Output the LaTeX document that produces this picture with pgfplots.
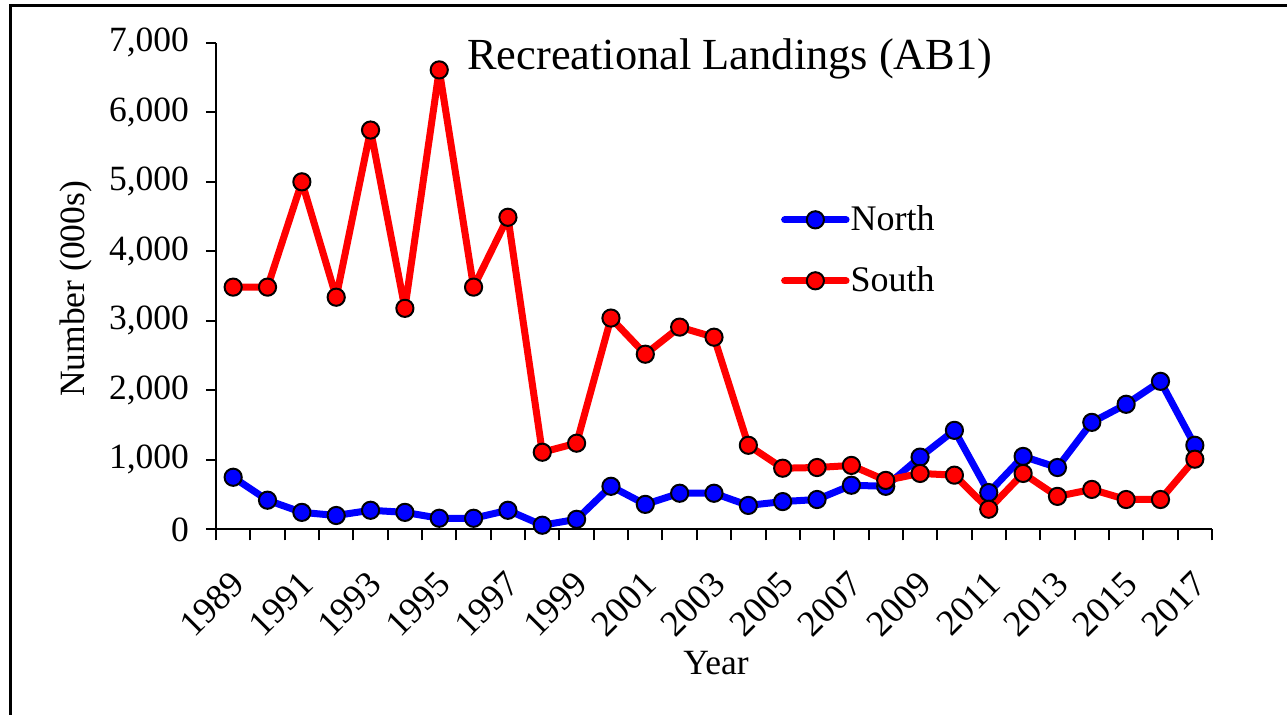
\documentclass[border=0pt]{standalone}
\usepackage{pgfplots}
\pgfplotsset{compat=1.18}
\usepackage{fontspec}
\setmainfont{Liberation Serif}
\begin{document}
\begin{tikzpicture}
\useasboundingbox (0,0) rectangle (643.5pt,357.5pt);
\draw[line width=1.5pt] (5pt,0) -- (5pt,354.5pt) -- (643.5pt,354.5pt);
\begin{axis}[
  at={(108pt,92.8pt)}, anchor=south west,
  scale only axis, width=498pt, height=243.3pt,
  xmin=-0.5, xmax=28.5, ymin=0, ymax=7000,
  axis lines*=left,
  axis line style={line width=1pt},
  tick align=outside,
  major tick length=5pt, minor tick length=5.5pt,
  every tick/.style={black, line width=1pt},
  xtick={0,2,...,28},
  xticklabels={1989,1991,1993,1995,1997,1999,2001,2003,2005,2007,2009,2011,2013,2015,2017},
  major x tick style={draw=none},
  minor xtick={-0.5,0.5,...,28.5},
  ytick={0,1000,...,7000},
  scaled ticks=false,
  /pgf/number format/.cd, 1000 sep={,}, assume math mode=true, /pgfplots/.cd,
  yticklabel style={font=\fontsize{17.75pt}{20pt}\selectfont, xshift=-5pt},
  xticklabel style={font=\fontsize{18.25pt}{21pt}\selectfont, xshift=-2pt, yshift=-10pt, rotate=45, anchor=north east},
  xlabel={Year}, ylabel={Number (000s)},
  every axis x label/.style={at={(axis description cs:0.502,-0.274)}, anchor=center, font=\fontsize{17.75pt}{20pt}\selectfont},
  every axis y label/.style={at={(axis description cs:-0.141,0.494)}, rotate=90, anchor=center, font=\fontsize{17.75pt}{20pt}\selectfont},
  legend style={at={(axis description cs:0.567,0.674)}, anchor=north west, draw=none, fill=none,
    font=\fontsize{18pt}{21pt}\selectfont, row sep=12.5pt, inner sep=0pt,
    nodes={inner xsep=0.5pt}},
  legend cell align=left,
  legend image code/.code={\draw[#1,mark repeat=2,mark phase=2] plot coordinates {(0cm,0cm) (0.54cm,0cm) (1.08cm,0cm)};},
  every axis plot/.append style={line width=3.5pt, line join=round, line cap=round, mark=*, mark size=4.3pt},
  clip=false,
]
\addplot[color={rgb,255:red,0;green,0;blue,255}, mark options={draw=black, line width=1pt, fill={rgb,255:red,0;green,0;blue,255}}] coordinates {
(0,750) (1,420) (2,245) (3,200) (4,275) (5,245) (6,160) (7,160) (8,275) (9,60)
(10,145) (11,620) (12,360) (13,520) (14,520) (15,345) (16,400) (17,430) (18,635) (19,620)
(20,1040) (21,1425) (22,530) (23,1050) (24,890) (25,1540) (26,1800) (27,2130) (28,1210)};
\addlegendentry{North}
\addplot[color={rgb,255:red,255;green,0;blue,0}, mark options={draw=black, line width=1pt, fill={rgb,255:red,255;green,0;blue,0}}] coordinates {
(0,3485) (1,3485) (2,5000) (3,3340) (4,5745) (5,3180) (6,6610) (7,3485) (8,4490) (9,1110)
(10,1240) (11,3040) (12,2520) (13,2910) (14,2765) (15,1210) (16,880) (17,890) (18,920) (19,705)
(20,805) (21,780) (22,290) (23,805) (24,475) (25,575) (26,430) (27,430) (28,1010)};
\addlegendentry{South}
\node[anchor=center, font=\fontsize{22.2pt}{26pt}\selectfont] at (axis description cs:0.516,0.967) {Recreational Landings (AB1)};
\end{axis}
\end{tikzpicture}
\end{document}
